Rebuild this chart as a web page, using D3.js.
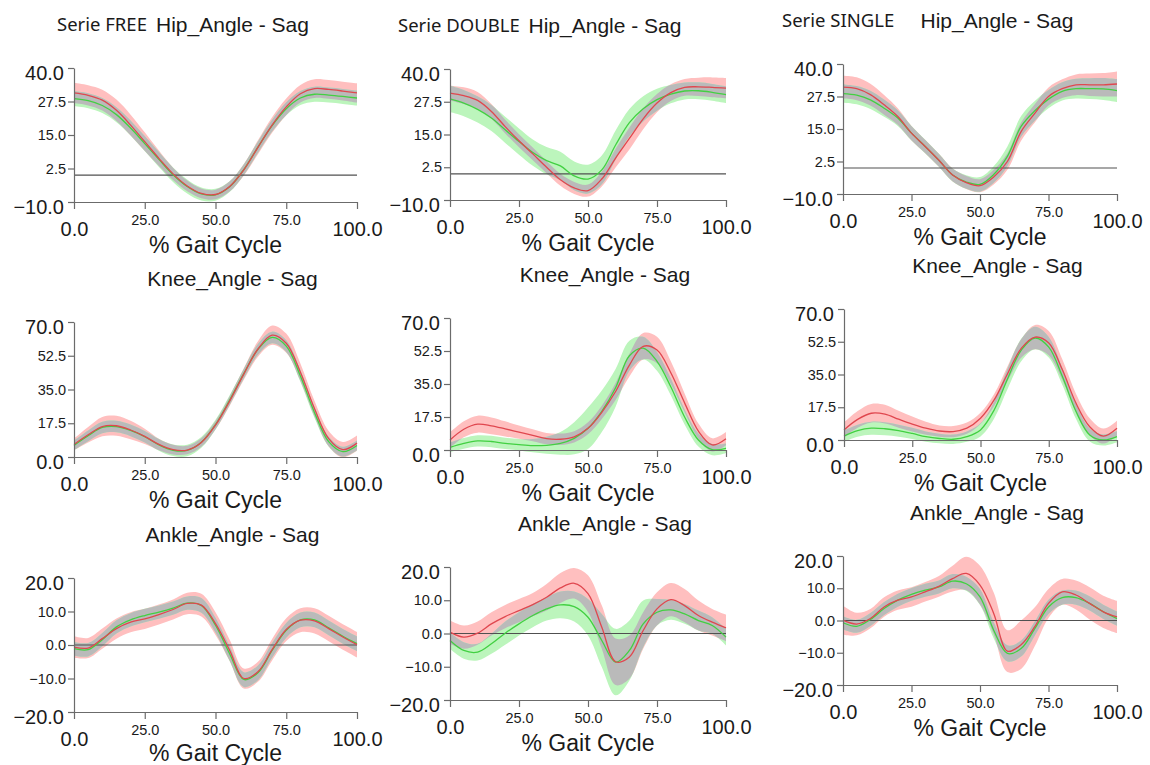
<!DOCTYPE html>
<html>
<head>
<meta charset="utf-8">
<script src="https://cdn.jsdelivr.net/npm/d3@7"></script>
<style>
  body { margin: 0; background: #fff; }
  svg { display: block; }
</style>
</head>
<body>
<svg id="chart" width="1150" height="765"></svg>
<script>
// % gait cycle sample points
const gaitPct = [0, 5, 10, 15, 20, 25, 30, 35, 40, 45, 50, 55, 60, 65, 70, 75, 80, 85, 90, 95, 100];
const pctTicks = [0, 25, 50, 75, 100];

const hipTicks = [-10, 2.5, 15, 27.5, 40];
const kneeTicks = [0, 17.5, 35, 52.5, 70];
const ankleTicks = [-20, -10, 0, 10, 20];

const serieNames = ['Serie FREE', 'Serie DOUBLE', 'Serie SINGLE'];
const jointTitles = ['Hip_Angle - Sag', 'Knee_Angle - Sag', 'Ankle_Angle - Sag'];

// FREE - hip
const redMean1 = [30.7, 29.8, 28.0, 24.2, 18.7, 12.5, 6.3, 0.5, -4.0, -6.8, -7.2, -4.2, 2.0, 10.4, 18.7, 25.5, 30.4, 32.3, 32.0, 31.4, 30.7];
const redSd1 = [3.8, 3.8, 3.9, 4.0, 3.9, 3.5, 2.9, 2.3, 2.0, 1.8, 1.8, 1.9, 2.2, 2.6, 2.9, 3.1, 3.3, 3.5, 3.5, 3.5, 3.6];
const greenMean1 = [28.6, 27.8, 26.0, 22.6, 17.6, 11.8, 5.9, 0.2, -4.2, -7.0, -7.3, -4.3, 2.1, 10.5, 18.5, 24.8, 28.8, 30.2, 29.9, 29.4, 28.8];
const greenSd1 = [2.8, 2.8, 2.8, 2.8, 2.8, 2.8, 2.8, 2.7, 2.6, 2.4, 2.2, 2.0, 2.0, 2.1, 2.2, 2.4, 2.6, 2.8, 2.8, 2.8, 2.8];

// DOUBLE - hip
const redMean2 = [30.8, 29.8, 28.0, 23.8, 18.0, 12.6, 7.6, 2.5, -2.3, -5.4, -6.4, -2.0, 6.0, 13.5, 21.0, 27.0, 31.0, 33.0, 33.2, 33.0, 32.7];
const redSd2 = [2.8, 3.2, 3.2, 2.8, 2.6, 2.5, 2.4, 2.3, 2.3, 2.3, 2.3, 2.8, 3.6, 4.2, 4.0, 3.5, 3.2, 3.2, 3.5, 3.8, 3.9];
const greenMean2 = [28.6, 27.0, 24.6, 21.3, 16.8, 12.3, 8.1, 5.0, 3.0, -0.8, -2.0, 1.5, 11.0, 19.5, 24.8, 28.3, 30.4, 31.6, 31.7, 31.1, 30.2];
const greenSd2 = [5.0, 5.0, 5.0, 5.0, 5.0, 5.0, 5.0, 5.2, 5.4, 5.5, 5.5, 5.5, 5.5, 5.2, 4.8, 4.2, 3.5, 3.2, 3.2, 3.2, 3.2];

// SINGLE - hip
const redMean3 = [31.1, 30.5, 28.2, 24.3, 19.8, 13.4, 8.3, 3.0, -2.7, -5.6, -6.8, -3.5, 2.5, 14.0, 21.0, 27.5, 30.5, 32.0, 32.0, 32.0, 32.3];
const redSd3 = [4.4, 4.4, 4.2, 3.8, 3.2, 2.8, 2.6, 2.5, 2.5, 2.5, 2.5, 2.8, 3.2, 3.5, 3.5, 3.5, 3.6, 4.0, 4.3, 4.5, 4.8];
const greenMean3 = [28.6, 28.0, 26.2, 23.0, 19.2, 13.4, 8.3, 3.0, -2.7, -5.4, -6.3, -2.5, 4.5, 16.0, 22.0, 26.5, 29.5, 30.5, 30.5, 30.4, 29.8];
const greenSd3 = [3.5, 3.5, 3.5, 3.3, 3.0, 2.8, 2.6, 2.5, 2.5, 2.6, 2.8, 3.2, 3.8, 4.0, 3.8, 3.5, 3.5, 3.8, 4.0, 4.2, 4.4];

// FREE - knee
const redMean4 = [6.5, 11.5, 15.8, 16.2, 14.0, 10.7, 6.5, 3.8, 3.6, 7.5, 16.5, 29.0, 43.0, 56.0, 63.2, 59.0, 44.0, 25.0, 9.5, 3.8, 7.2];
const redSd4 = [3.0, 4.0, 5.0, 5.2, 4.8, 4.0, 3.0, 2.5, 2.2, 2.2, 2.2, 2.5, 3.0, 4.0, 5.0, 5.0, 4.5, 4.0, 4.0, 4.0, 4.0];
const greenMean4 = [6.0, 11.0, 15.3, 15.8, 13.8, 10.5, 6.3, 3.5, 3.4, 7.6, 16.8, 29.5, 43.2, 55.8, 62.0, 57.5, 42.0, 23.0, 8.0, 2.8, 6.0];
const greenSd4 = [2.5, 2.8, 3.0, 3.0, 3.0, 3.0, 3.0, 3.0, 3.0, 2.8, 2.5, 2.5, 2.5, 2.8, 3.0, 3.0, 3.0, 2.8, 2.5, 2.5, 2.5];

// DOUBLE - knee
const redMean5 = [5.3, 11.0, 13.7, 12.8, 11.2, 9.5, 7.8, 6.0, 5.7, 7.0, 11.5, 20.0, 31.0, 45.0, 55.0, 53.0, 41.0, 25.0, 10.0, 2.7, 6.0];
const redSd5 = [4.0, 4.2, 4.5, 4.5, 4.0, 3.5, 3.2, 3.0, 3.0, 3.0, 3.2, 3.5, 4.5, 6.0, 7.0, 7.0, 6.0, 5.0, 4.0, 3.5, 3.5];
const greenMean5 = [1.4, 3.5, 4.8, 4.5, 3.5, 2.8, 2.3, 2.5, 3.5, 6.2, 11.5, 20.5, 33.0, 50.0, 54.0, 47.0, 33.5, 17.5, 5.3, 0.2, 0.9];
const greenSd5 = [2.5, 2.8, 3.0, 3.0, 3.0, 3.0, 3.5, 4.5, 6.0, 8.5, 11.0, 11.0, 10.0, 8.0, 6.0, 5.0, 4.5, 4.0, 3.5, 3.0, 2.5];

// SINGLE - knee
const redMean6 = [5.4, 11.0, 14.3, 13.8, 11.1, 8.5, 6.3, 4.8, 4.5, 6.3, 11.6, 21.4, 35.7, 49.1, 55.0, 51.8, 37.5, 19.6, 7.1, 2.1, 6.3];
const redSd6 = [4.0, 4.5, 5.0, 5.0, 4.5, 4.0, 3.5, 3.0, 3.0, 3.0, 3.0, 3.2, 4.0, 5.0, 6.5, 6.5, 5.5, 5.0, 4.5, 4.0, 4.0];
const greenMean6 = [2.1, 5.0, 6.3, 6.0, 5.0, 3.5, 1.8, 0.8, 0.4, 1.8, 5.4, 16.0, 33.0, 48.2, 54.5, 49.6, 33.9, 15.2, 2.7, 0.0, 1.8];
const greenSd6 = [3.0, 3.2, 3.5, 3.5, 3.2, 3.0, 2.8, 2.6, 2.5, 2.8, 3.5, 4.5, 5.5, 6.0, 6.0, 5.5, 4.5, 4.0, 3.5, 3.0, 3.0];

// FREE - ankle
const redMean7 = [-0.6, -0.9, 1.9, 4.9, 6.8, 7.8, 9.1, 10.6, 12.4, 11.9, 6.4, -1.6, -10.0, -8.0, -1.4, 4.6, 7.4, 7.2, 4.9, 2.4, 0.1];
const redSd7 = [3.2, 3.0, 3.0, 3.0, 3.0, 3.0, 3.0, 3.0, 3.2, 3.4, 3.4, 3.2, 3.0, 3.0, 3.2, 3.4, 3.6, 3.8, 3.8, 3.8, 3.8];
const greenMean7 = [-1.1, -1.4, 1.6, 5.4, 7.5, 8.8, 9.8, 11.0, 12.5, 11.8, 5.9, -2.6, -10.3, -8.3, -1.6, 4.4, 7.5, 7.5, 5.1, 2.6, 0.4];
const greenSd7 = [2.0, 2.0, 2.0, 2.0, 2.0, 2.0, 2.0, 2.0, 2.0, 2.2, 2.2, 2.2, 2.2, 2.2, 2.2, 2.2, 2.2, 2.2, 2.2, 2.2, 2.2];

// DOUBLE - ankle
const redMean8 = [0.4, -1.1, 0.1, 2.9, 5.1, 6.9, 8.7, 10.9, 13.7, 15.1, 12.0, 1.9, -8.5, -7.1, 0.9, 7.4, 10.2, 8.4, 5.4, 3.4, 1.7];
const redSd8 = [3.5, 3.5, 3.5, 3.5, 3.5, 3.5, 3.5, 4.0, 4.5, 4.6, 5.5, 6.5, 7.0, 6.5, 5.5, 5.0, 5.0, 5.0, 4.5, 4.0, 4.0];
const greenMean8 = [-2.1, -5.1, -5.6, -3.1, 0.1, 2.9, 5.4, 7.4, 8.6, 8.1, 4.9, -2.1, -8.6, -5.1, 2.9, 6.4, 7.1, 5.9, 3.9, 2.4, -1.1];
const greenSd8 = [2.5, 2.5, 2.5, 3.0, 3.5, 3.5, 3.5, 3.5, 4.0, 4.5, 5.5, 8.0, 10.0, 9.0, 7.0, 4.0, 3.0, 3.0, 3.0, 2.5, 2.5];

// SINGLE - ankle
const redMean9 = [0.1, -1.1, 0.6, 4.2, 6.3, 7.3, 8.9, 10.6, 13.0, 14.6, 11.0, 2.2, -9.5, -7.5, -1.9, 5.3, 8.9, 7.9, 5.3, 2.7, 1.1];
const redSd9 = [4.5, 3.5, 3.0, 3.0, 3.0, 3.0, 3.0, 3.2, 4.0, 5.2, 6.0, 6.5, 6.5, 7.5, 6.0, 4.5, 4.0, 4.5, 5.0, 5.0, 5.0];
const greenMean9 = [-0.7, -1.8, 0.3, 3.7, 6.3, 8.1, 9.4, 10.4, 12.2, 11.4, 7.3, -3.0, -10.2, -8.7, -2.5, 4.2, 7.1, 7.1, 5.3, 2.7, 0.6];
const greenSd9 = [2.0, 2.0, 2.0, 2.0, 2.0, 2.0, 2.0, 2.0, 2.2, 2.2, 2.5, 2.5, 2.5, 2.5, 2.2, 2.2, 2.2, 2.2, 2.2, 2.2, 2.2];

const panels = [
  { ticks: hipTicks, zero: true, red: [redMean1, redSd1], green: [greenMean1, greenSd1] },
  { ticks: hipTicks, zero: true, red: [redMean2, redSd2], green: [greenMean2, greenSd2] },
  { ticks: hipTicks, zero: true, red: [redMean3, redSd3], green: [greenMean3, greenSd3] },
  { ticks: kneeTicks, zero: false, red: [redMean4, redSd4], green: [greenMean4, greenSd4] },
  { ticks: kneeTicks, zero: false, red: [redMean5, redSd5], green: [greenMean5, greenSd5] },
  { ticks: kneeTicks, zero: false, red: [redMean6, redSd6], green: [greenMean6, greenSd6] },
  { ticks: ankleTicks, zero: true, red: [redMean7, redSd7], green: [greenMean7, greenSd7] },
  { ticks: ankleTicks, zero: true, red: [redMean8, redSd8], green: [greenMean8, greenSd8] },
  { ticks: ankleTicks, zero: true, red: [redMean9, redSd9], green: [greenMean9, greenSd9] },
];

// plot frames: left, right, top, bottom (px)
const frames = [
  [74, 357, 68, 202], [450, 726, 69, 200], [843, 1117, 64, 194],
  [74, 357, 322, 457], [450, 726, 318, 450], [844, 1117, 309, 440],
  [74, 357, 578, 712], [450, 726, 567, 700], [843, 1117, 556, 685],
];
const serieX = [57, 398, 782];

const colors = {
  redBand: '#ffbfbf',
  greenBand: '#bcf5bc',
  overlap: '#bababa',
  redLine: '#e0474f',
  greenLine: '#42d042',
  axis: '#6b6b6b',
  zero: '#505050',
};

const font = "'Liberation Sans', Arial, sans-serif";
const svg = d3.select('#chart');
const fmt = d3.format('.1f');

panels.forEach((p, i) => {
  const [left, right, top, bottom] = frames[i];
  const row = Math.floor(i / 3);
  const col = i % 3;

  const x = d3.scaleLinear().domain([0, 100]).range([left, right]);
  const y = d3
    .scaleLinear()
    .domain([p.ticks[0], p.ticks[p.ticks.length - 1]])
    .range([bottom, top]);

  const toRows = ([mean, sd]) =>
    gaitPct.map((pct, k) => ({ pct, mean: mean[k], lo: mean[k] - sd[k], hi: mean[k] + sd[k] }));
  const red = toRows(p.red);
  const green = toRows(p.green);

  const band = d3
    .area()
    .x((d) => x(d.pct))
    .y0((d) => y(d.lo))
    .y1((d) => y(d.hi))
    .curve(d3.curveCatmullRom);

  const line = d3
    .line()
    .x((d) => x(d.pct))
    .y((d) => y(d.mean))
    .curve(d3.curveCatmullRom);

  const g = svg.append('g').attr('class', 'panel');

  const clipId = `red-band-${i}`;
  g.append('clipPath').attr('id', clipId).append('path').attr('d', band(red));

  g.append('path').attr('d', band(red)).attr('fill', colors.redBand);
  g.append('path').attr('d', band(green)).attr('fill', colors.greenBand);
  // overlap of the two bands
  g.append('path')
    .attr('d', band(green))
    .attr('fill', colors.overlap)
    .attr('clip-path', `url(#${clipId})`);

  if (p.zero) {
    g.append('line')
      .attr('x1', x(0))
      .attr('x2', x(100))
      .attr('y1', y(0))
      .attr('y2', y(0))
      .attr('stroke', colors.zero)
      .attr('stroke-width', 1.2);
  }

  g.append('path')
    .attr('d', line(green))
    .attr('fill', 'none')
    .attr('stroke', colors.greenLine)
    .attr('stroke-width', 1.3);
  g.append('path')
    .attr('d', line(red))
    .attr('fill', 'none')
    .attr('stroke', colors.redLine)
    .attr('stroke-width', 1.3);

  // y axis
  const yAxis = g
    .append('g')
    .attr('transform', `translate(${left},0)`)
    .call(
      d3.axisLeft(y).tickValues(p.ticks).tickFormat(fmt).tickSize(6).tickSizeOuter(0)
    );

  yAxis.selectAll('.tick text').each(function (d, k) {
    const big = k === 0 || k === p.ticks.length - 1;
    d3.select(this)
      .attr('x', big ? -10 : -8)
      .attr('dy', big ? '0.55em' : '0.32em')
      .style('font-size', big ? '20px' : '14.5px');
  });

  // x axis
  const xAxis = g
    .append('g')
    .attr('transform', `translate(0,${bottom})`)
    .call(
      d3.axisBottom(x).tickValues(pctTicks).tickFormat(fmt).tickSize(7).tickSizeOuter(0)
    );

  xAxis.selectAll('.tick text').each(function (d, k) {
    const big = k === 0 || k === pctTicks.length - 1;
    d3.select(this)
      .attr('y', big ? 20 : 13)
      .style('font-size', big ? '20px' : '14.5px');
  });

  [yAxis, xAxis].forEach((a) => {
    a.attr('font-family', font);
    a.selectAll('path, line').attr('stroke', colors.axis).attr('stroke-width', 1.2);
    a.selectAll('text').attr('fill', '#1a1a1a');
  });

  g.append('text')
    .attr('x', (left + right) / 2)
    .attr('y', Math.min(bottom + 51, 761))
    .attr('text-anchor', 'middle')
    .style('font-family', font)
    .style('font-size', '23px')
    .attr('fill', '#1a1a1a')
    .text('% Gait Cycle');

  g.append('text')
    .attr('x', (left + right) / 2 + 17)
    .attr('y', top - 36.5)
    .attr('text-anchor', 'middle')
    .style('font-family', font)
    .style('font-size', '21px')
    .attr('fill', '#1a1a1a')
    .text(jointTitles[row]);

  if (row === 0) {
    g.append('text')
      .attr('x', serieX[col])
      .attr('y', top - 37)
      .style('font-family', "'Noto Sans', 'Open Sans', sans-serif")
      .style('font-size', '18.5px')
      .attr('fill', '#1a1a1a')
      .text(serieNames[col]);
  }
});
</script>
</body>
</html>
